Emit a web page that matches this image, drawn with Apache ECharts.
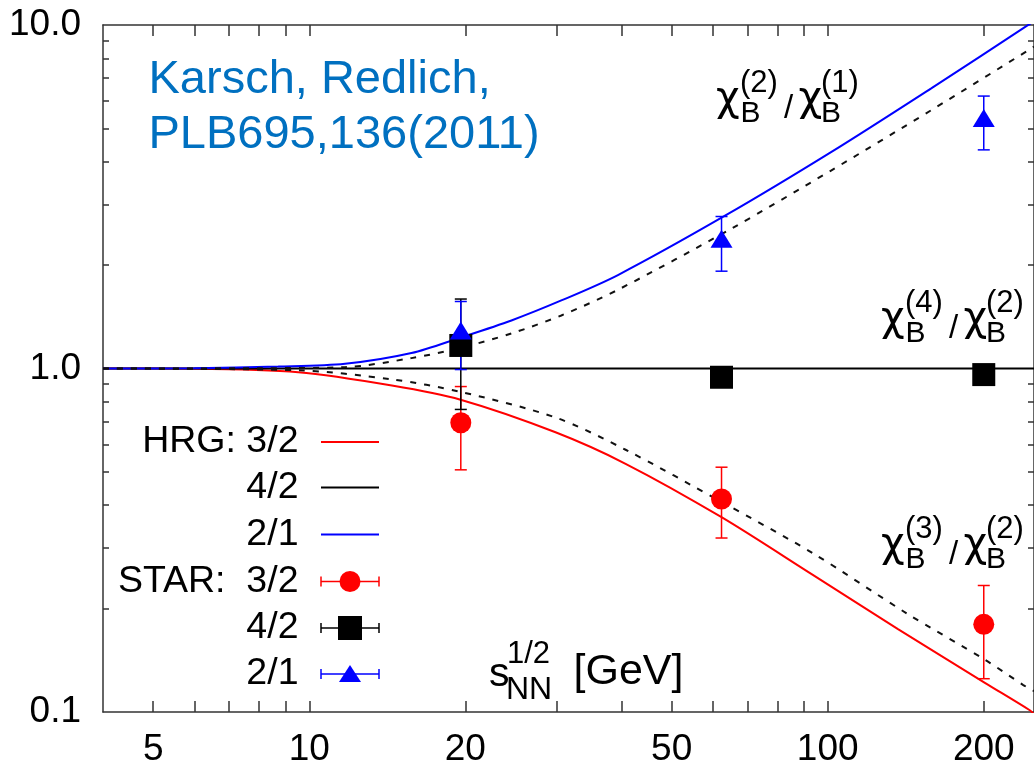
<!DOCTYPE html>
<html><head><meta charset="utf-8">
<script src="https://cdn.jsdelivr.net/npm/echarts@6/dist/echarts.min.js"></script>
<style>html,body{margin:0;padding:0;background:#fff}#chart{width:1034px;height:768px}</style>
</head><body><div id="chart"></div>
<script>
// ---- tick labels ----
const xTickLabels = [5, 10, 20, 50, 100, 200];
const xTickMarks = [5, 6, 7, 8, 9, 10, 20, 30, 40, 50, 60, 70, 80, 90, 100, 200];
const yTickLabels = [0.1, 1, 10];
const yTickMarks = [0.2, 0.3, 0.4, 0.5, 0.6, 0.7, 0.8, 0.9, 2, 3, 4, 5, 6, 7, 8, 9];

// ---- HRG curves ----
const hrg32X = [4, 6, 9.52, 14.43, 19.58, 29.85, 40.75, 62.4, 93.6, 136.4, 201, 245.8, 250];
const hrg32Y = [1.0, 0.998, 0.975, 0.892, 0.811, 0.652, 0.528, 0.369, 0.2506, 0.1746, 0.1216, 0.101, 0.0985];
const hrg42X = [4, 250];
const hrg42Y = [1.0, 1.0];
const hrg21X = [4, 6, 8.71, 11.72, 15.74, 19.56, 24.54, 30.63, 39.39, 63.5, 101.5, 158.1, 242.9, 250];
const hrg21Y = [1.0, 1.002, 1.013, 1.032, 1.109, 1.230, 1.380, 1.578, 1.871, 2.789, 4.264, 6.53, 9.97, 10.26];
// dashed curves
const dashUpX = [4, 8, 11.72, 15.74, 19.56, 24.54, 30.63, 39.39, 65.1, 101.5, 158.1, 246.5, 250];
const dashUpY = [1.0, 1.002, 1.009, 1.072, 1.148, 1.265, 1.427, 1.695, 2.551, 3.77, 5.64, 8.53, 8.65];
const dashLoX = [4, 9.52, 14.43, 19.58, 29.85, 40.75, 62.4, 93.6, 142.6, 201, 238, 250];
const dashLoY = [1.0, 0.988, 0.93, 0.855, 0.72, 0.58, 0.409, 0.29, 0.193, 0.142, 0.12, 0.115];

// ---- STAR data ----
const starX = [19.6, 62.4, 200];
const star32Y = [0.695, 0.417, 0.180];
const star32Lo = [0.507, 0.321, 0.125];
const star32Hi = [0.886, 0.516, 0.2335];
const star42Y = [1.167, 0.943, 0.960];
const star42Lo = [0.760, 0.93, 0.948];
const star42Hi = [1.593, 0.956, 0.972];
const star21Y = [1.29, 2.386, 5.36];
const star21Lo = [0.993, 1.92, 4.33];
const star21Hi = [1.567, 2.77, 6.21];

const FONT = '"Liberation Sans", Arial, Helvetica, sans-serif';
const CHI_FONT = '"DejaVu Sans", sans-serif';
const AX = '#333';

function pairs(xs, ys) { return xs.map((x, i) => [x, ys[i]]); }
function errData(lo, hi) { return starX.map((x, i) => [x, lo[i], hi[i]]); }

function errRender(color) {
  return function (params, api) {
    const x = api.value(0), lo = api.value(1), hi = api.value(2);
    const p1 = api.coord([x, hi]), p2 = api.coord([x, lo]);
    const hw = 6, st = { stroke: color, lineWidth: 1.5 };
    return { type: 'group', children: [
      { type: 'line', shape: { x1: p1[0], y1: p1[1], x2: p2[0], y2: p2[1] }, style: st },
      { type: 'line', shape: { x1: p1[0] - hw, y1: p1[1], x2: p1[0] + hw, y2: p1[1] }, style: st },
      { type: 'line', shape: { x1: p2[0] - hw, y1: p2[1], x2: p2[0] + hw, y2: p2[1] }, style: st }
    ]};
  };
}

function txt(text, x, y, size, opts) {
  opts = opts || {};
  return { type: 'text', z: 100, style: {
    text: text, x: x, y: y, font: size + 'px ' + (opts.family || FONT), fill: opts.fill || '#000',
    align: opts.align || 'left', textAlign: opts.align || 'left',
    verticalAlign: 'middle', textVerticalAlign: 'middle'
  }};
}

function mathLabel(x0, y0, a, b) {
  return [
    txt('\u03C7', x0 - 1, y0 + 26.5, 41, { family: CHI_FONT }),
    txt('B', x0 + 23.5, y0 + 40.5, 30),
    txt('(' + a + ')', x0 + 23, y0 + 10.5, 31),
    txt('/', x0 + 67, y0 + 35.5, 33),
    txt('\u03C7', x0 + 81.5, y0 + 26.5, 41, { family: CHI_FONT }),
    txt('B', x0 + 104, y0 + 40.5, 30),
    txt('(' + b + ')', x0 + 104, y0 + 10.5, 31)
  ];
}

// legend
const legRows = [442, 487.5, 534.5, 581.5, 628, 674];
const legTexts = ['HRG: 3/2', '4/2', '2/1', 'STAR:  3/2', '4/2', '2/1'];
const graphics = [];
legRows.forEach((y, i) => graphics.push(txt(legTexts[i], 298.5, y, 37.5, { align: 'right' })));
const lineCols = ['#ff0000', '#000000', '#0000ff'];
for (let i = 0; i < 3; i++) {
  graphics.push({ type: 'line', z: 100, shape: { x1: 321, y1: legRows[i], x2: 379, y2: legRows[i] }, style: { stroke: lineCols[i], lineWidth: 2 } });
}
for (let i = 0; i < 3; i++) {
  const y = legRows[3 + i], c = lineCols[i], st = { stroke: c, lineWidth: 1.5 };
  graphics.push({ type: 'line', z: 100, shape: { x1: 321, y1: y, x2: 379, y2: y }, style: st });
  graphics.push({ type: 'line', z: 100, shape: { x1: 321, y1: y - 5, x2: 321, y2: y + 5 }, style: st });
  graphics.push({ type: 'line', z: 100, shape: { x1: 379, y1: y - 5, x2: 379, y2: y + 5 }, style: st });
}
graphics.push({ type: 'circle', z: 101, shape: { cx: 350, cy: legRows[3], r: 10.5 }, style: { fill: '#ff0000' } });
graphics.push({ type: 'rect', z: 101, shape: { x: 338, y: legRows[4] - 12, width: 24, height: 24 }, style: { fill: '#000' } });
graphics.push({ type: 'polygon', z: 101, shape: { points: [[350, legRows[5] - 9], [339, legRows[5] + 8], [361, legRows[5] + 8]] }, style: { fill: '#0000ff' } });

// annotations
graphics.push(txt('Karsch, Redlich,', 148.5, 80, 47, { fill: '#0070c0' }));
graphics.push(txt('PLB695,136(2011)', 148.5, 135.5, 47, { fill: '#0070c0' }));
mathLabel(717, 73, 2, 1).forEach(g => graphics.push(g));
mathLabel(882, 293, 4, 2).forEach(g => graphics.push(g));
mathLabel(882, 519, 3, 2).forEach(g => graphics.push(g));
// axis title
graphics.push(txt('s', 489, 674.5, 41));
graphics.push(txt('NN', 506, 690, 32));
graphics.push(txt('1/2', 507, 654, 31));
graphics.push(txt('[GeV]', 573.5, 672, 43));

const chart = echarts.init(document.getElementById('chart'), null, { renderer: 'canvas' });
const xBase = { type: 'log', logBase: 10, min: 4, max: 250, splitLine: { show: false }, axisLine: { lineStyle: { color: AX, width: 1.5 } } };
const yBase = { type: 'log', logBase: 10, min: 0.1, max: 10, splitLine: { show: false }, axisLine: { lineStyle: { color: AX, width: 1.5 } } };
const SM = 0.3;

chart.setOption({
  animation: false,
  backgroundColor: '#fff',
  textStyle: { fontFamily: FONT },
  grid: { left: 103, top: 25, right: -2, bottom: 56, containLabel: false },
  xAxis: [
    Object.assign({}, xBase, { position: 'bottom',
      axisTick: { inside: true, length: 11, lineStyle: { color: AX, width: 1.5 }, customValues: xTickMarks },
      axisLabel: { customValues: xTickLabels, formatter: v => String(Math.round(v)), fontSize: 37, color: '#000', margin: 19, fontFamily: FONT } }),
    Object.assign({}, xBase, { position: 'top',
      axisTick: { inside: true, length: 11, lineStyle: { color: AX, width: 1.5 }, customValues: xTickMarks },
      axisLabel: { show: false } })
  ],
  yAxis: [
    Object.assign({}, yBase, { position: 'left',
      axisTick: { inside: true, length: 6, lineStyle: { color: AX, width: 1.5 }, customValues: yTickMarks },
      axisLabel: { customValues: yTickLabels, formatter: v => Number(v).toFixed(1), fontSize: 37, color: '#000', margin: 22, fontFamily: FONT } }),
    Object.assign({}, yBase, { position: 'right',
      axisTick: { inside: true, length: 6, lineStyle: { color: AX, width: 1.5 }, customValues: yTickMarks },
      axisLabel: { show: false } })
  ],
  graphic: { elements: graphics },
  series: [
    { type: 'line', data: pairs(hrg32X, hrg32Y), showSymbol: false, symbol: 'none', smooth: SM, z: 2, lineStyle: { color: '#ff0000', width: 2 } },
    { type: 'line', data: pairs(hrg42X, hrg42Y), showSymbol: false, symbol: 'none', z: 2, lineStyle: { color: '#000', width: 2 } },
    { type: 'line', data: pairs(hrg21X, hrg21Y), showSymbol: false, symbol: 'none', smooth: SM, z: 2, lineStyle: { color: '#0000ff', width: 2 } },
    { type: 'line', data: pairs(dashUpX, dashUpY), showSymbol: false, symbol: 'none', smooth: SM, z: 3, lineStyle: { color: '#111', width: 2, type: [6, 8] } },
    { type: 'line', data: pairs(dashLoX, dashLoY), showSymbol: false, symbol: 'none', smooth: SM, z: 3, lineStyle: { color: '#111', width: 2, type: [6, 8] } },
    { type: 'custom', data: errData(star32Lo, star32Hi), renderItem: errRender('#ff0000'), encode: { x: 0, y: [1, 2] }, z: 4 },
    { type: 'custom', data: errData(star42Lo, star42Hi), renderItem: errRender('#000000'), encode: { x: 0, y: [1, 2] }, z: 4 },
    { type: 'custom', data: errData(star21Lo, star21Hi), renderItem: errRender('#0000ff'), encode: { x: 0, y: [1, 2] }, z: 4 },
    { type: 'scatter', data: pairs(starX, star32Y), symbol: 'circle', symbolSize: 21, z: 5, itemStyle: { color: '#ff0000', opacity: 1 } },
    { type: 'scatter', data: pairs(starX, star42Y), symbol: 'rect', symbolSize: 23, z: 5, itemStyle: { color: '#000', opacity: 1 } },
    { type: 'scatter', data: pairs(starX, star21Y), symbol: 'triangle', symbolSize: [22, 18], z: 6, itemStyle: { color: '#0000ff', opacity: 1 } }
  ]
});
</script>
</body></html>
